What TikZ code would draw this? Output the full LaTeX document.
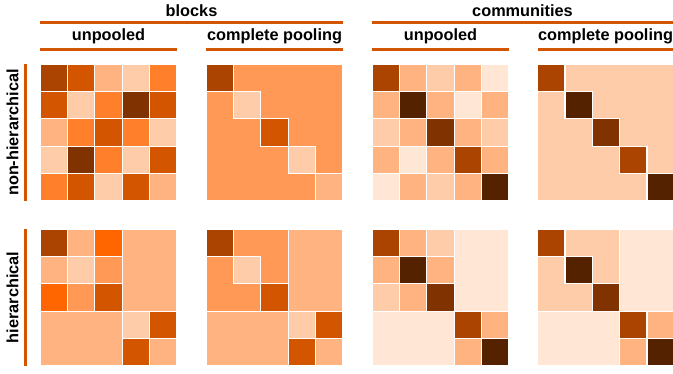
\documentclass[tikz,border=0pt]{standalone}
\usepackage{fontspec}
\setmainfont{Liberation Sans}
\definecolor{cA}{HTML}{552200}
\definecolor{cB}{HTML}{803300}
\definecolor{cC}{HTML}{AA4400}
\definecolor{cD}{HTML}{D45500}
\definecolor{cE}{HTML}{FF6600}
\definecolor{cF}{HTML}{FF7F2A}
\definecolor{cG}{HTML}{FF9955}
\definecolor{cH}{HTML}{FFB380}
\definecolor{cI}{HTML}{FFCCAA}
\definecolor{cJ}{HTML}{FFE6D5}
\tikzset{
  cellbox/.style={draw=white, line width=1.3pt},
  rule/.style={draw=cD, line width=3pt},
  heading/.style={font=\bfseries\fontsize{16.3}{18}\selectfont, inner sep=0pt, anchor=base},
}
% one row of cells: x start, y top, colours
\newcommand\mrow[3]{%
  \foreach \c [count=\j from 0] in {#3}
    \filldraw[cellbox, fill=\c] ({#1+\j*27.4},{#2}) rectangle ++(27.4,27.4);}
% one block: x, y, width (cells), height (cells), colour
\newcommand\mblock[5]{%
  \filldraw[cellbox, fill=#5] ({#1},{#2}) rectangle ++({#3*27.4},{#4*27.4});}
\begin{document}
\begin{tikzpicture}[x=1pt, y=-1pt]
\useasboundingbox (0,0) rectangle (673,373);

% column headings
\node[heading] (hblocks) at (191.5,16.5) {blocks};
\node[heading] (hcomm) at (522.5,16.5) {communities};
\draw[rule] (40,22) -- (343,22);
\draw[rule] (372,22) -- (676,22);
\node[heading] (h1) at (108.5,40.7) {unpooled};
\node[heading] (h2) at (274.5,40.7) {complete pooling};
\node[heading] (h3) at (440.5,40.7) {unpooled};
\node[heading] (h4) at (605.5,40.7) {complete pooling};
\draw[rule] (40,49.5) -- (177,49.5);
\draw[rule] (206,49.5) -- (343,49.5);
\draw[rule] (372,49.5) -- (509,49.5);
\draw[rule] (537.5,49.5) -- (676,49.5);

% row headings
\node[heading, rotate=90] (rnon) at (18.5,132.5) {non-hierarchical};
\node[heading, rotate=90] (rhier) at (18.5,297.5) {hierarchical};
\draw[rule] (25,64) -- (25,201);
\draw[rule] (25,229) -- (25,366);

% blocks, unpooled, non-hierarchical
\mrow{40}{64}{cC,cD,cH,cI,cF}
\mrow{40}{91.4}{cD,cI,cF,cB,cD}
\mrow{40}{118.8}{cH,cF,cD,cF,cI}
\mrow{40}{146.2}{cI,cB,cF,cI,cD}
\mrow{40}{173.6}{cF,cD,cI,cD,cH}

% blocks, complete pooling, non-hierarchical
\mblock{206}{64}{5}{5}{cG}
\mblock{206}{64}{1}{1}{cC}
\mblock{233.4}{91.4}{1}{1}{cI}
\mblock{260.8}{118.8}{1}{1}{cD}
\mblock{288.2}{146.2}{1}{1}{cI}
\mblock{315.6}{173.6}{1}{1}{cH}

% communities, unpooled, non-hierarchical
\mrow{372}{64}{cC,cH,cI,cH,cJ}
\mrow{372}{91.4}{cH,cA,cH,cJ,cH}
\mrow{372}{118.8}{cI,cH,cB,cH,cI}
\mrow{372}{146.2}{cH,cJ,cH,cC,cH}
\mrow{372}{173.6}{cJ,cH,cI,cH,cA}

% communities, complete pooling, non-hierarchical
\mblock{537.5}{64}{5}{5}{cI}
\mblock{537.5}{64}{1}{1}{cC}
\mblock{564.9}{91.4}{1}{1}{cA}
\mblock{592.3}{118.8}{1}{1}{cB}
\mblock{619.7}{146.2}{1}{1}{cC}
\mblock{647.1}{173.6}{1}{1}{cA}

% blocks, unpooled, hierarchical
\mrow{40}{229}{cC,cH,cE}
\mrow{40}{256.4}{cH,cI,cG}
\mrow{40}{283.8}{cE,cG,cD}
\mblock{122.2}{229}{2}{3}{cH}
\mblock{40}{311.2}{3}{2}{cH}
\mrow{122.2}{311.2}{cI,cD}
\mrow{122.2}{338.6}{cD,cH}

% blocks, complete pooling, hierarchical
\mblock{206}{229}{3}{3}{cG}
\mblock{206}{229}{1}{1}{cC}
\mblock{233.4}{256.4}{1}{1}{cI}
\mblock{260.8}{283.8}{1}{1}{cD}
\mblock{288.2}{229}{2}{3}{cH}
\mblock{206}{311.2}{3}{2}{cH}
\mrow{288.2}{311.2}{cI,cD}
\mrow{288.2}{338.6}{cD,cH}

% communities, unpooled, hierarchical
\mrow{372}{229}{cC,cH,cI}
\mrow{372}{256.4}{cH,cA,cH}
\mrow{372}{283.8}{cI,cH,cB}
\mblock{454.2}{229}{2}{3}{cJ}
\mblock{372}{311.2}{3}{2}{cJ}
\mrow{454.2}{311.2}{cC,cH}
\mrow{454.2}{338.6}{cH,cA}

% communities, complete pooling, hierarchical
\mblock{537.5}{229}{3}{3}{cI}
\mblock{537.5}{229}{1}{1}{cC}
\mblock{564.9}{256.4}{1}{1}{cA}
\mblock{592.3}{283.8}{1}{1}{cB}
\mblock{619.7}{229}{2}{3}{cJ}
\mblock{537.5}{311.2}{3}{2}{cJ}
\mrow{619.7}{311.2}{cC,cH}
\mrow{619.7}{338.6}{cH,cA}
\end{tikzpicture}
\end{document}
